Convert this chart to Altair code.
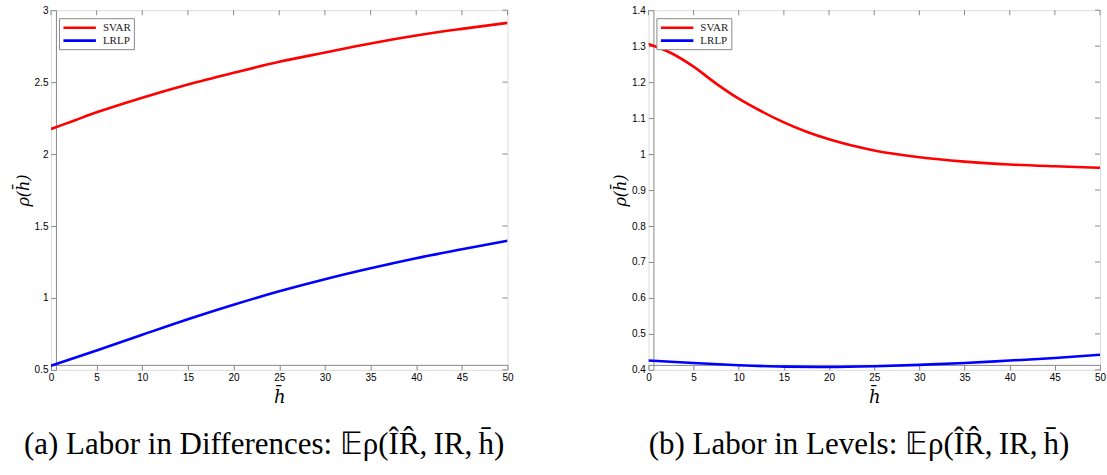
import altair as alt
import pandas as pd

# ---- data ----
diff_h = [0, 2.5, 5, 10, 15, 20, 25, 30, 35, 40, 45, 50]
diff_svar = [2.174, 2.232, 2.290, 2.392, 2.484, 2.565, 2.641, 2.706, 2.769, 2.824, 2.870, 2.912]
diff_lrlp_h = [0, 5, 10, 15, 20, 25, 30, 35, 40, 45, 50]
diff_lrlp = [0.528, 0.634, 0.744, 0.852, 0.953, 1.046, 1.130, 1.206, 1.276, 1.338, 1.398]

lev_h = [0, 2.5, 5, 7.5, 10, 12.5, 15, 17.5, 20, 25, 30, 35, 40, 45, 50]
lev_svar = [1.306, 1.281, 1.243, 1.196, 1.154, 1.119, 1.088, 1.062, 1.041, 1.010, 0.991, 0.979, 0.971, 0.966, 0.962]
lev_lrlp_h = [0, 5, 10, 15, 20, 25, 30, 35, 40, 45, 50]
lev_lrlp = [0.426, 0.419, 0.413, 0.409, 0.408, 0.410, 0.414, 0.419, 0.426, 0.433, 0.442]

series_names = ["SVAR", "LRLP"]
series_colors = ["#ff0000", "#0000ff"]
x_ticks = [0, 5, 10, 15, 20, 25, 30, 35, 40, 45, 50]
diff_y_ticks = [0.5, 1, 1.5, 2, 2.5, 3]
lev_y_ticks = [0.4, 0.5, 0.6, 0.7, 0.8, 0.9, 1, 1.1, 1.2, 1.3, 1.4]
cap_a = "(a) Labor in Differences: \U0001D53C\u03C1(I\u0302R\u0302,\u2009IR,\u2009h\u0304)"
cap_b = "(b) Labor in Levels: \U0001D53C\u03C1(I\u0302R\u0302,\u2009IR,\u2009h\u0304)"

GRAY = "#8a8a8a"


def make_df(h1, v1, h2, v2):
    rows = []
    for h, v in zip(h1, v1):
        rows.append({"h": h, "value": v, "series": series_names[0]})
    for h, v in zip(h2, v2):
        rows.append({"h": h, "value": v, "series": series_names[1]})
    return pd.DataFrame(rows)


def panel(df, ydom, yticks, caption, w):
    xs = alt.Scale(domain=[0, 50], nice=False, zero=False)
    ys = alt.Scale(domain=ydom, nice=False, zero=False)
    xaxis = alt.Axis(values=x_ticks, title="h\u0304", offset=-5, tickSize=5, grid=False,
                     labelFlush=False, labelOverlap=False,
                     labelPadding=3, titlePadding=6, titleFont="DejaVu Serif",
                     titleFontStyle="italic", titleFontSize=18, titleFontWeight="normal")
    yaxis = alt.Axis(values=yticks, format="~g", title="\u03C1(h\u0304)", offset=-5, tickSize=5,
                     grid=False, labelFlush=False, labelOverlap=False,
                     labelPadding=3, titlePadding=3, titleFont="DejaVu Serif",
                     titleFontStyle="italic", titleFontSize=16, titleFontWeight="normal")
    lines = alt.Chart(df).mark_line(strokeWidth=2.6, interpolate="monotone", clip=True).encode(
        x=alt.X("h:Q", scale=xs, axis=xaxis),
        y=alt.Y("value:Q", scale=ys, axis=yaxis),
        color=alt.Color("series:N", sort=series_names,
                        scale=alt.Scale(domain=series_names, range=series_colors),
                        legend=alt.Legend(title=None, orient="top-left", offset=8,
                                          symbolType="M-1,0H5.5", symbolStrokeWidth=2.6, symbolSize=100,
                                          labelFont="Liberation Serif", labelFontSize=11, labelColor="#222",
                                          strokeColor=GRAY, fillColor="white", padding=3, rowPadding=1,
                                          labelOffset=28, cornerRadius=0)),
        order=alt.Order("h:Q"),
    )
    xt = pd.DataFrame({"t": x_ticks})
    yt = pd.DataFrame({"t": yticks})
    top_ticks = alt.Chart(xt).mark_rule(color=GRAY, strokeWidth=1).encode(
        x=alt.X("t:Q", scale=xs, axis=xaxis), y=alt.value(0), y2=alt.value(5))
    right_ticks = alt.Chart(yt).mark_rule(color=GRAY, strokeWidth=1).encode(
        y=alt.Y("t:Q", scale=ys, axis=yaxis), x=alt.value(w - 5), x2=alt.value(w))
    return alt.layer(lines, top_ticks, right_ticks).properties(
        width=w, height=360,
        title=alt.TitleParams(caption, orient="bottom", anchor="middle", frame="bounds",
                              font="Liberation Serif", fontSize=31, fontWeight="normal",
                              color="black", offset=23),
    )


left = panel(make_df(diff_h, diff_svar, diff_lrlp_h, diff_lrlp), [0.5, 3], diff_y_ticks, cap_a, 457)
right = panel(make_df(lev_h, lev_svar, lev_lrlp_h, lev_lrlp), [0.4, 1.4], lev_y_ticks, cap_b, 452)

chart = alt.hconcat(left, right, spacing=97).resolve_scale(color="independent").resolve_legend(
    color="independent"
).properties(padding={"left": 14, "top": 4, "right": 0, "bottom": 0}).configure_view(
    stroke=GRAY, strokeWidth=1
).configure_axis(
    domain=False, grid=False, labelFont="Liberation Sans", labelFontSize=11, labelColor="#262626",
    tickColor=GRAY, tickWidth=1, titleColor="#262626"
).configure(background="white")

chart.save("out.html", embed_options={"renderer": "svg", "actions": False})
